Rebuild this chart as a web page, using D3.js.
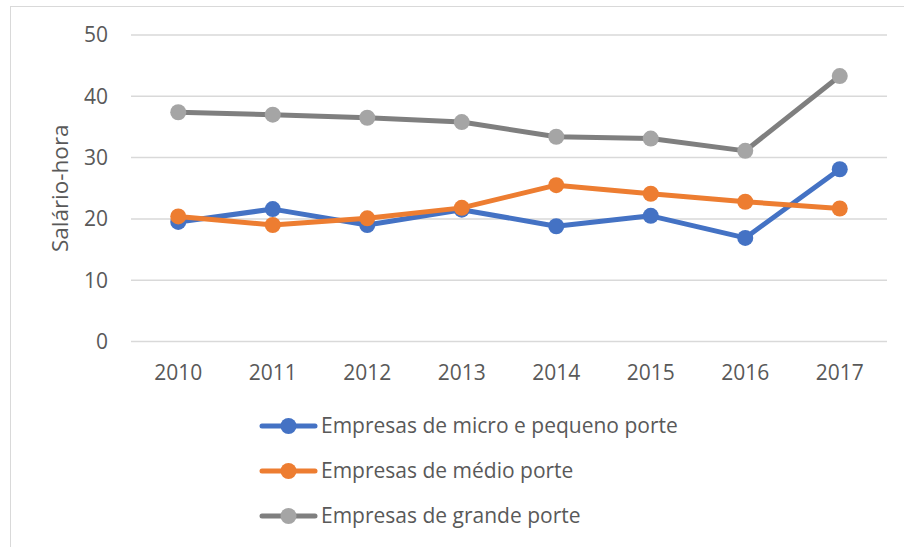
<!DOCTYPE html>
<html>
<head>
<meta charset="utf-8">
<script src="https://cdn.jsdelivr.net/npm/d3@7"></script>
<style>
  body { margin: 0; background: #fff; }
  text { font-family: "Open Sans", sans-serif; fill: #595959; }
</style>
</head>
<body>
<div id="chart"></div>
<script>
const years = ["2010", "2011", "2012", "2013", "2014", "2015", "2016", "2017"];
const microPequeno = [19.5, 21.6, 19.0, 21.5, 18.8, 20.5, 16.9, 28.1];
const medio = [20.4, 19.0, 20.1, 21.8, 25.5, 24.1, 22.8, 21.7];
const grande = [37.4, 37.0, 36.5, 35.8, 33.4, 33.1, 31.1, 43.3];
const seriesNames = ["Empresas de micro e pequeno porte", "Empresas de médio porte", "Empresas de grande porte"];
const yTicks = [0, 10, 20, 30, 40, 50];

const series = [
  { name: seriesNames[0], values: microPequeno, line: "#4472C4", dot: "#4472C4" },
  { name: seriesNames[1], values: medio, line: "#ED7D31", dot: "#ED7D31" },
  { name: seriesNames[2], values: grande, line: "#7F7F7F", dot: "#A5A5A5" }
];

const width = 904, height = 547;

const svg = d3.select("#chart")
  .append("svg")
  .attr("width", width)
  .attr("height", height);

// chart frame (only left and top edges visible)
svg.append("rect")
  .attr("x", 10.5).attr("y", 6.5)
  .attr("width", 1000).attr("height", 1000)
  .attr("fill", "none")
  .attr("stroke", "#D9D9D9")
  .attr("stroke-width", 1);

const x = d3.scaleBand().domain(years).range([131, 887]);
const y = d3.scaleLinear().domain([0, 50]).range([341.5, 35]);

// gridlines
svg.append("g")
  .selectAll("line")
  .data(yTicks)
  .join("line")
  .attr("x1", 131).attr("x2", 887)
  .attr("y1", d => y(d)).attr("y2", d => y(d))
  .attr("stroke", "#D9D9D9")
  .attr("stroke-width", 1.5);

// y tick labels
svg.append("g")
  .selectAll("text")
  .data(yTicks)
  .join("text")
  .attr("x", 108)
  .attr("y", d => y(d))
  .attr("dy", "0.35em")
  .attr("text-anchor", "end")
  .style("font-size", "21px")
  .text(d => d);

// x labels
svg.append("g")
  .selectAll("text")
  .data(years)
  .join("text")
  .attr("x", d => x(d) + x.bandwidth() / 2)
  .attr("y", 373)
  .attr("dy", "0.35em")
  .attr("text-anchor", "middle")
  .style("font-size", "21px")
  .text(d => d);

// y axis title
svg.append("text")
  .attr("transform", `translate(60,${(y(0) + y(50)) / 2}) rotate(-90)`)
  .attr("text-anchor", "middle")
  .attr("dy", "0.35em")
  .style("font-size", "22.5px")
  .text("Salário-hora");

const line = d3.line()
  .x((d, i) => x(years[i]) + x.bandwidth() / 2)
  .y(d => y(d));

const g = svg.append("g").selectAll("g")
  .data(series)
  .join("g");

g.append("path")
  .attr("d", d => line(d.values))
  .attr("fill", "none")
  .attr("stroke", d => d.line)
  .attr("stroke-width", 5)
  .attr("stroke-linejoin", "round");

g.each(function(s) {
  d3.select(this).selectAll("circle")
    .data(s.values)
    .join("circle")
    .attr("cx", (d, i) => x(years[i]) + x.bandwidth() / 2)
    .attr("cy", d => y(d))
    .attr("r", 8)
    .attr("fill", s.dot);
});

// legend
const legend = svg.append("g").selectAll("g")
  .data(series)
  .join("g")
  .attr("transform", (d, i) => `translate(0,${426 + i * 45})`);

legend.append("line")
  .attr("x1", 262).attr("x2", 315)
  .attr("stroke", d => d.line)
  .attr("stroke-width", 5)
  .attr("stroke-linecap", "round");

legend.append("circle")
  .attr("cx", 288.5)
  .attr("r", 8)
  .attr("fill", d => d.dot);

legend.append("text")
  .attr("x", 321)
  .attr("dy", "0.35em")
  .style("font-size", "21px")
  .text(d => d.name);
</script>
</body>
</html>
